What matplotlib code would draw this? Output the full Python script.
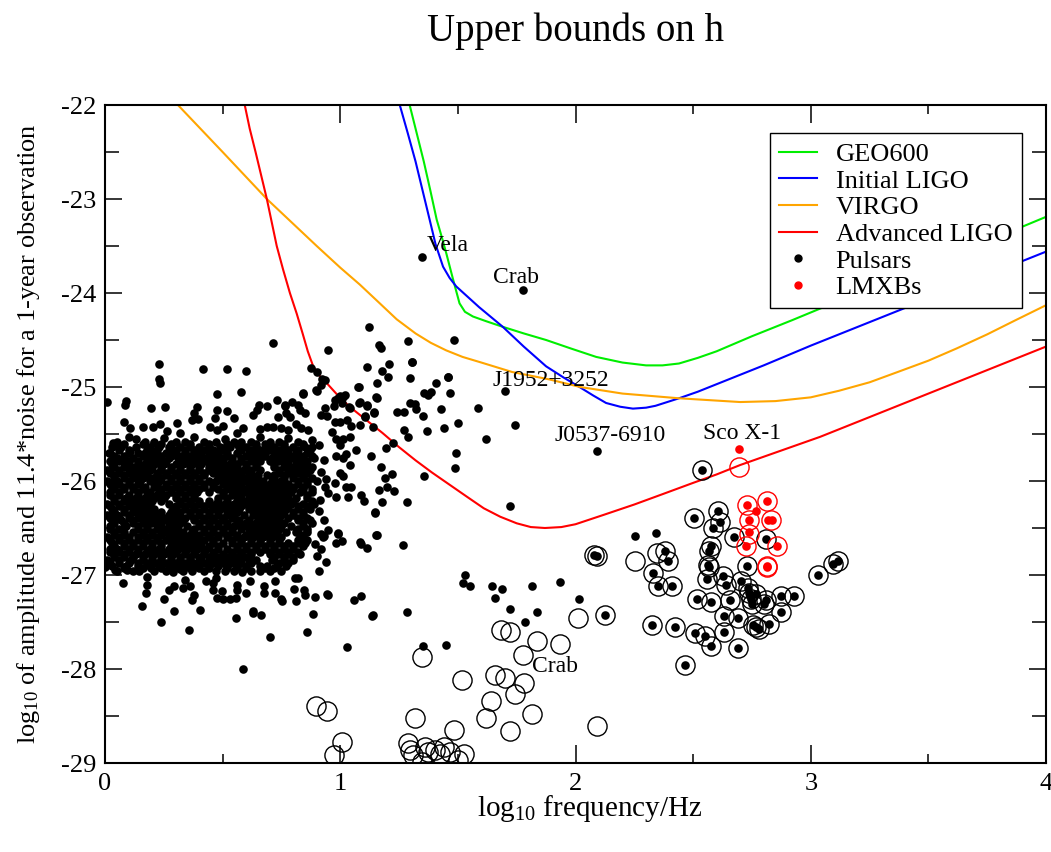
import matplotlib
matplotlib.use('Agg')
import matplotlib.pyplot as plt
from matplotlib.lines import Line2D
from matplotlib.ticker import MultipleLocator, FuncFormatter

plt.rcParams['font.family'] = ['Liberation Serif', 'DejaVu Serif']
plt.rcParams['mathtext.fontset'] = 'custom'
plt.rcParams['mathtext.rm'] = 'Liberation Serif'
plt.rcParams['mathtext.it'] = 'Liberation Serif:italic'
plt.rcParams['axes.unicode_minus'] = False

# ---------------- detector sensitivity curves ----------------
geo_x = [1.295, 1.325, 1.355, 1.383, 1.41, 1.431, 1.451, 1.479, 1.507, 1.53, 1.564, 1.62, 1.691, 1.78,
         1.875, 1.98, 2.088, 2.2, 2.30, 2.37, 2.44, 2.52, 2.6, 2.75, 2.92, 3.2, 3.5, 3.75, 4.0]
geo_y = [-22.0, -22.3, -22.6, -22.91, -23.22, -23.4, -23.58, -23.85, -24.11, -24.2, -24.25, -24.3, -24.36, -24.43,
         -24.50, -24.59, -24.68, -24.74, -24.77, -24.77, -24.75, -24.69, -24.62, -24.46, -24.29, -24.0, -23.71, -23.45, -23.19]

ligo_x = [1.253, 1.287, 1.32, 1.35, 1.38, 1.405, 1.437, 1.465, 1.493, 1.59, 1.691, 1.78, 1.875, 1.95, 2.017,
          2.075, 2.13, 2.19, 2.244, 2.3, 2.34, 2.44, 2.52, 2.6, 2.7, 2.8, 3.0, 3.25, 3.5, 3.75, 4.0]
ligo_y = [-22.0, -22.3, -22.6, -22.91, -23.22, -23.48, -23.72, -23.84, -23.93, -24.15, -24.36, -24.57, -24.78, -24.9, -25.0,
          -25.09, -25.17, -25.21, -25.23, -25.22, -25.2, -25.12, -25.05, -24.97, -24.87, -24.77, -24.56, -24.31, -24.06, -23.81, -23.56]

virgo_x = [0.31, 0.5, 0.688, 0.9, 1.0, 1.083, 1.168, 1.24, 1.32, 1.385, 1.45, 1.52, 1.6, 1.73, 1.89, 2.02,
           2.2, 2.44, 2.7, 2.85, 3.0, 3.12, 3.25, 3.37, 3.5, 3.62, 3.75, 3.87, 4.0]
virgo_y = [-22.0, -22.5, -23.0, -23.5, -23.73, -23.91, -24.11, -24.28, -24.43, -24.53, -24.61, -24.68, -24.74, -24.84, -24.92, -25.0,
           -25.07, -25.12, -25.16, -25.15, -25.11, -25.04, -24.95, -24.84, -24.72, -24.59, -24.44, -24.29, -24.13]

adv_x = [0.594, 0.615, 0.64, 0.664, 0.688, 0.709, 0.73, 0.757, 0.786, 0.815, 0.84, 0.862, 0.885, 0.912, 0.943,
         0.99, 1.04, 1.11, 1.18, 1.25, 1.32, 1.39, 1.465, 1.54, 1.61, 1.68, 1.75, 1.81, 1.87, 1.94, 2.0,
         2.12, 2.25, 2.37, 2.5, 2.6, 2.7, 2.87, 3.04, 3.27, 3.5, 3.75, 4.0]
adv_y = [-22.0, -22.25, -22.5, -22.75, -23.0, -23.25, -23.5, -23.75, -24.0, -24.22, -24.43, -24.62, -24.78, -24.88, -24.96,
         -25.09, -25.21, -25.35, -25.49, -25.64, -25.78, -25.91, -26.04, -26.17, -26.29, -26.38, -26.45, -26.49, -26.5, -26.49, -26.46,
         -26.36, -26.25, -26.14, -26.02, -25.93, -25.83, -25.68, -25.53, -25.3, -25.07, -24.82, -24.57]

# ---------------- pulsars: dense core read row by row ----------------
core_y = [-25.58, -25.64, -25.70, -25.76, -25.82, -25.88, -25.94, -26.00, -26.06, -26.12,
          -26.18, -26.24, -26.30, -26.36, -26.42, -26.48, -26.54, -26.60, -26.66, -26.72,
          -26.78, -26.84, -26.90, -26.96]
core_x = [
    [0.05, 0.17, 0.21, 0.30, 0.34, 0.42, 0.47, 0.55, 0.58, 0.62, 0.70, 0.74, 0.82],
    [0.03, 0.07, 0.13, 0.19, 0.23, 0.27, 0.32, 0.36, 0.40, 0.44, 0.49, 0.53, 0.57, 0.60, 0.64, 0.69, 0.72, 0.76, 0.80, 0.85, 0.88],
    [0.02, 0.10, 0.14, 0.17, 0.21, 0.26, 0.29, 0.34, 0.38, 0.41, 0.45, 0.48, 0.52, 0.56, 0.61, 0.65, 0.68, 0.73, 0.77, 0.81, 0.86],
    [0.05, 0.08, 0.12, 0.19, 0.23, 0.27, 0.31, 0.35, 0.39, 0.43, 0.47, 0.50, 0.54, 0.58, 0.63, 0.66, 0.71, 0.75, 0.79, 0.83, 0.89],
    [0.03, 0.09, 0.14, 0.17, 0.21, 0.25, 0.30, 0.33, 0.37, 0.41, 0.45, 0.49, 0.53, 0.56, 0.60, 0.64, 0.72, 0.77, 0.81, 0.85],
    [0.01, 0.06, 0.11, 0.15, 0.19, 0.24, 0.28, 0.32, 0.36, 0.40, 0.44, 0.47, 0.51, 0.55, 0.59, 0.62, 0.66, 0.74, 0.79, 0.83, 0.87],
    [0.04, 0.08, 0.13, 0.17, 0.22, 0.26, 0.30, 0.34, 0.38, 0.42, 0.49, 0.53, 0.57, 0.61, 0.65, 0.69, 0.72, 0.76, 0.80, 0.84],
    [0.01, 0.05, 0.10, 0.15, 0.19, 0.23, 0.28, 0.32, 0.36, 0.40, 0.44, 0.47, 0.51, 0.55, 0.59, 0.63, 0.67, 0.71, 0.75, 0.82, 0.86, 0.90],
    [0.03, 0.08, 0.12, 0.17, 0.21, 0.26, 0.30, 0.34, 0.38, 0.42, 0.46, 0.53, 0.57, 0.61, 0.65, 0.69, 0.73, 0.77, 0.80, 0.84],
    [0.02, 0.06, 0.14, 0.19, 0.23, 0.28, 0.32, 0.36, 0.39, 0.44, 0.50, 0.55, 0.59, 0.63, 0.67, 0.71, 0.75, 0.79, 0.83, 0.88],
    [0.04, 0.09, 0.13, 0.17, 0.21, 0.25, 0.30, 0.34, 0.38, 0.48, 0.52, 0.57, 0.61, 0.65, 0.69, 0.73, 0.77, 0.81, 0.86],
    [0.01, 0.06, 0.11, 0.15, 0.19, 0.27, 0.32, 0.36, 0.40, 0.44, 0.47, 0.51, 0.55, 0.59, 0.63, 0.67, 0.71, 0.75, 0.79, 0.84, 0.89],
    [0.03, 0.08, 0.13, 0.17, 0.21, 0.29, 0.34, 0.38, 0.42, 0.46, 0.49, 0.53, 0.57, 0.61, 0.65, 0.69, 0.73, 0.77, 0.82, 0.87],
    [0.01, 0.05, 0.10, 0.15, 0.19, 0.23, 0.27, 0.31, 0.36, 0.40, 0.44, 0.48, 0.52, 0.55, 0.59, 0.63, 0.67, 0.71, 0.75, 0.80, 0.84],
    [0.03, 0.07, 0.12, 0.17, 0.21, 0.25, 0.29, 0.33, 0.38, 0.42, 0.46, 0.50, 0.57, 0.61, 0.65, 0.69, 0.73, 0.82, 0.87],
    [0.02, 0.09, 0.14, 0.18, 0.23, 0.27, 0.31, 0.35, 0.40, 0.44, 0.48, 0.52, 0.55, 0.59, 0.63, 0.67, 0.71, 0.75, 0.79, 0.84],
    [0.04, 0.08, 0.12, 0.16, 0.20, 0.25, 0.29, 0.33, 0.37, 0.42, 0.46, 0.50, 0.54, 0.61, 0.65, 0.69, 0.73, 0.77, 0.81, 0.86],
    [0.01, 0.06, 0.10, 0.14, 0.18, 0.22, 0.27, 0.31, 0.35, 0.39, 0.44, 0.48, 0.52, 0.56, 0.59, 0.63, 0.67, 0.71, 0.75, 0.83],
    [0.03, 0.08, 0.12, 0.16, 0.20, 0.24, 0.29, 0.33, 0.37, 0.41, 0.46, 0.50, 0.54, 0.58, 0.62, 0.66, 0.70, 0.74, 0.78, 0.82, 0.85],
    [0.02, 0.05, 0.10, 0.14, 0.19, 0.23, 0.27, 0.31, 0.35, 0.39, 0.43, 0.48, 0.52, 0.56, 0.60, 0.64, 0.68, 0.72, 0.76, 0.80],
    [0.04, 0.08, 0.13, 0.17, 0.21, 0.25, 0.29, 0.34, 0.38, 0.42, 0.46, 0.50, 0.54, 0.58, 0.62, 0.70, 0.74, 0.78, 0.83],
    [0.01, 0.06, 0.11, 0.16, 0.20, 0.24, 0.28, 0.32, 0.36, 0.41, 0.45, 0.49, 0.53, 0.57, 0.61, 0.64, 0.71, 0.76, 0.80],
    [0.03, 0.09, 0.14, 0.19, 0.23, 0.27, 0.31, 0.35, 0.39, 0.44, 0.48, 0.52, 0.56, 0.60, 0.66, 0.69, 0.73, 0.77],
    [0.05, 0.12, 0.21, 0.26, 0.33, 0.37, 0.42, 0.47, 0.51, 0.55, 0.62, 0.66, 0.70, 0.75],
]
# in-between rows of the same dense core
core2_y = [-25.61, -25.67, -25.73, -25.79, -25.85, -25.91, -25.97, -26.03, -26.09, -26.15, -26.21, -26.27,
           -26.33, -26.39, -26.45, -26.51, -26.57, -26.63, -26.69, -26.75, -26.81, -26.87, -26.93]
core2_x = [
    [0.08, 0.16, 0.24, 0.28, 0.36, 0.44, 0.52, 0.56, 0.64, 0.68, 0.76, 0.84],
    [0.06, 0.10, 0.18, 0.22, 0.30, 0.34, 0.38, 0.42, 0.46, 0.50, 0.58, 0.62, 0.66, 0.70, 0.74, 0.78, 0.82, 0.87],
    [0.04, 0.08, 0.16, 0.20, 0.24, 0.28, 0.32, 0.36, 0.40, 0.44, 0.48, 0.52, 0.60, 0.64, 0.68, 0.72, 0.76, 0.80, 0.84, 0.88],
    [0.02, 0.06, 0.10, 0.14, 0.18, 0.22, 0.26, 0.34, 0.38, 0.42, 0.46, 0.50, 0.54, 0.58, 0.62, 0.66, 0.70, 0.74, 0.78, 0.82, 0.86],
    [0.04, 0.08, 0.12, 0.16, 0.20, 0.24, 0.28, 0.36, 0.40, 0.44, 0.48, 0.52, 0.56, 0.60, 0.64, 0.72, 0.76, 0.80, 0.84, 0.88],
    [0.02, 0.06, 0.10, 0.14, 0.18, 0.22, 0.26, 0.30, 0.34, 0.38, 0.42, 0.46, 0.50, 0.54, 0.58, 0.62, 0.74, 0.78, 0.82, 0.86],
    [0.04, 0.08, 0.12, 0.16, 0.20, 0.24, 0.28, 0.32, 0.36, 0.40, 0.48, 0.52, 0.56, 0.60, 0.64, 0.72, 0.76, 0.80, 0.84, 0.88],
    [0.02, 0.06, 0.10, 0.14, 0.22, 0.26, 0.30, 0.34, 0.38, 0.42, 0.46, 0.50, 0.54, 0.58, 0.62, 0.66, 0.70, 0.74, 0.78, 0.82, 0.86],
    [0.04, 0.08, 0.12, 0.16, 0.24, 0.28, 0.32, 0.36, 0.40, 0.48, 0.52, 0.56, 0.60, 0.64, 0.68, 0.72, 0.76, 0.80, 0.84, 0.88],
    [0.02, 0.06, 0.10, 0.14, 0.18, 0.22, 0.26, 0.30, 0.34, 0.38, 0.50, 0.54, 0.58, 0.62, 0.66, 0.70, 0.74, 0.78, 0.86],
    [0.04, 0.08, 0.12, 0.16, 0.20, 0.24, 0.32, 0.36, 0.40, 0.44, 0.48, 0.52, 0.56, 0.60, 0.64, 0.68, 0.72, 0.76, 0.80, 0.88],
    [0.02, 0.06, 0.10, 0.14, 0.18, 0.30, 0.34, 0.38, 0.42, 0.46, 0.50, 0.54, 0.58, 0.62, 0.66, 0.70, 0.74, 0.78, 0.82, 0.86],
    [0.04, 0.08, 0.12, 0.16, 0.20, 0.24, 0.28, 0.32, 0.36, 0.40, 0.44, 0.48, 0.52, 0.56, 0.64, 0.68, 0.72, 0.76, 0.80, 0.84],
    [0.02, 0.06, 0.10, 0.14, 0.18, 0.22, 0.26, 0.30, 0.34, 0.38, 0.42, 0.46, 0.50, 0.54, 0.66, 0.70, 0.74, 0.78, 0.82, 0.86],
    [0.04, 0.08, 0.12, 0.16, 0.20, 0.24, 0.28, 0.32, 0.40, 0.44, 0.48, 0.52, 0.56, 0.60, 0.64, 0.68, 0.72, 0.76, 0.84, 0.88],
    [0.02, 0.06, 0.14, 0.18, 0.22, 0.26, 0.30, 0.38, 0.42, 0.46, 0.50, 0.54, 0.58, 0.62, 0.66, 0.70, 0.74, 0.82, 0.86],
    [0.04, 0.08, 0.16, 0.20, 0.24, 0.28, 0.32, 0.36, 0.40, 0.44, 0.48, 0.52, 0.56, 0.60, 0.64, 0.68, 0.72, 0.84],
    [0.02, 0.06, 0.10, 0.14, 0.18, 0.22, 0.26, 0.30, 0.34, 0.38, 0.42, 0.46, 0.54, 0.58, 0.62, 0.66, 0.70, 0.74, 0.82, 0.86],
    [0.04, 0.08, 0.12, 0.16, 0.20, 0.24, 0.28, 0.32, 0.36, 0.40, 0.44, 0.48, 0.56, 0.60, 0.64, 0.68, 0.72, 0.76, 0.80, 0.84],
    [0.02, 0.06, 0.10, 0.14, 0.18, 0.22, 0.26, 0.30, 0.34, 0.38, 0.42, 0.46, 0.54, 0.58, 0.62, 0.66, 0.70, 0.74, 0.78, 0.82],
    [0.04, 0.08, 0.12, 0.16, 0.20, 0.24, 0.28, 0.32, 0.36, 0.40, 0.44, 0.48, 0.52, 0.56, 0.60, 0.72, 0.76, 0.80],
    [0.02, 0.06, 0.10, 0.14, 0.18, 0.22, 0.26, 0.30, 0.34, 0.38, 0.42, 0.46, 0.50, 0.54, 0.58, 0.62, 0.74, 0.78],
    [0.08, 0.16, 0.24, 0.28, 0.36, 0.40, 0.44, 0.52, 0.56, 0.60, 0.68, 0.72],
]

# ---------------- pulsars: individually read points ----------------
scatter_pts = [
    # upper fringe of the cloud
    (0.715, -24.53), (0.23, -24.75), (0.23, -24.92), (0.235, -24.96), (0.415, -24.81), (0.517, -24.81),
    (0.60, -24.83), (0.477, -25.07), (0.578, -25.05), (0.01, -25.16), (0.09, -25.15), (0.085, -25.19),
    (0.195, -25.22), (0.255, -25.21), (0.39, -25.21), (0.38, -25.28), (0.475, -25.24), (0.52, -25.25),
    (0.55, -25.33), (0.37, -25.35), (0.395, -25.34), (0.467, -25.33), (0.08, -25.37), (0.305, -25.38),
    (0.63, -25.30), (0.645, -25.24), (0.655, -25.19), (0.69, -25.20), (0.73, -25.14), (0.765, -25.20),
    (0.735, -25.32), (0.77, -25.28), (0.105, -25.44), (0.16, -25.43), (0.205, -25.43), (0.235, -25.39),
    (0.262, -25.47), (0.32, -25.49), (0.445, -25.43), (0.475, -25.46), (0.50, -25.41), (0.585, -25.44),
    (0.56, -25.49), (0.66, -25.45), (0.69, -25.43), (0.715, -25.43), (0.75, -25.44), (0.10, -25.53),
    (0.035, -25.60), (0.055, -25.63), (0.015, -25.70), (0.105, -25.68), (0.21, -25.60), (0.275, -25.64),
    (0.13, -25.55), (0.25, -25.54), (0.38, -25.53), (0.51, -25.55), (0.66, -25.53), (0.78, -25.54),
    # right of the cloud, near and above the Advanced LIGO curve
    (0.947, -24.61), (1.163, -24.55), (1.172, -24.59), (1.287, -24.51), (1.482, -24.50), (1.113, -24.79),
    (1.176, -24.83), (1.206, -24.76), (1.202, -24.89), (1.304, -24.73), (1.295, -24.90), (1.456, -24.89),
    (0.875, -24.80), (0.90, -24.84), (0.934, -24.93), (0.92, -24.98), (0.90, -25.04), (0.84, -25.06),
    (1.079, -25.0), (1.155, -24.96), (1.155, -25.12), (1.405, -24.96), (1.355, -25.06), (1.372, -25.09),
    (1.384, -25.05), (1.465, -25.06), (0.99, -25.12), (1.01, -25.11), (1.006, -25.17), (1.079, -25.17),
    (1.113, -25.20), (1.142, -25.27), (1.24, -25.27), (1.27, -25.27), (1.295, -25.17), (1.316, -25.18),
    (1.32, -25.23), (1.427, -25.23), (1.35, -25.31), (1.50, -25.38), (1.44, -25.44), (1.367, -25.47),
    (1.27, -25.46), (1.287, -25.53), (1.104, -25.32), (1.138, -25.43), (1.083, -25.40), (1.223, -25.60),
    (1.193, -25.65), (1.13, -25.73), (1.172, -25.85), (1.19, -25.97), (1.219, -25.93), (1.197, -26.06),
    (1.227, -26.11), (1.163, -26.10), (1.355, -25.95), (1.49, -25.70), (1.486, -25.86), (1.282, -26.22),
    (1.176, -26.22), (1.10, -26.21), (1.087, -26.15), (1.122, -24.36), (1.585, -25.22), (1.701, -25.04),
    (1.743, -25.40), (1.62, -25.55), (1.72, -26.27), (1.458, -24.89), (1.305, -24.73),
    # between the cloud and the curve
    (0.934, -25.22), (0.974, -25.20), (0.998, -25.10), (1.019, -25.09), (1.04, -25.22), (0.92, -25.30),
    (0.945, -25.31), (0.977, -25.37), (0.998, -25.37), (1.03, -25.35), (1.047, -25.41), (0.963, -25.48),
    (0.984, -25.55), (1.012, -25.55), (1.04, -25.53), (0.998, -25.62), (1.069, -25.67), (0.984, -25.73),
    (1.012, -25.76), (1.026, -25.71), (1.04, -25.83), (0.998, -25.92), (1.012, -25.95), (1.047, -26.06),
    (1.026, -26.06), (0.977, -26.02), (0.934, -26.06), (0.948, -26.13), (0.984, -26.17), (0.913, -26.20),
    (1.033, -26.17), (0.764, -25.19), (0.793, -25.16), (0.821, -25.19), (0.842, -25.07), (0.828, -25.24),
    (0.849, -25.28), (0.786, -25.32), (0.814, -25.39), (0.835, -25.44), (0.863, -25.46), (0.878, -25.56),
    (0.779, -25.46), (0.924, -24.92), (0.899, -25.03), (0.977, -25.14), (1.037, -25.21), (1.076, -25.00),
    (1.112, -25.19), (1.083, -25.16), (1.143, -25.28), (1.105, -25.31), (1.154, -25.11),
    (0.91, -25.62), (0.93, -25.78), (0.92, -25.90), (0.94, -25.98), (0.91, -26.32), (0.93, -26.42),
    (0.95, -26.52), (0.92, -26.56), (0.90, -26.80), (0.94, -26.86),
    # lower fringe
    (0.0, -26.92), (0.043, -26.95), (0.078, -27.09), (0.092, -26.95), (0.146, -26.96), (0.194, -26.93),
    (0.18, -27.02), (0.18, -27.11), (0.174, -27.19), (0.156, -27.33), (0.234, -26.89), (0.25, -27.26),
    (0.29, -26.97), (0.318, -26.94), (0.293, -27.38), (0.238, -27.50), (0.355, -27.59), (0.273, -27.16),
    (0.293, -27.12), (0.333, -27.14), (0.361, -27.12), (0.379, -27.21), (0.368, -27.27), (0.34, -27.05),
    (0.403, -27.37), (0.429, -27.06), (0.46, -27.09), (0.471, -27.03), (0.46, -27.16), (0.477, -27.24),
    (0.502, -27.26), (0.53, -27.26), (0.556, -27.24), (0.563, -27.11), (0.559, -27.16), (0.498, -27.17),
    (0.601, -27.19), (0.555, -27.46), (0.627, -27.40), (0.662, -27.43), (0.70, -27.66), (0.587, -28.0),
    (0.677, -27.12), (0.677, -27.19), (0.722, -27.06), (0.722, -27.19), (0.753, -27.28), (0.616, -27.06),
    (0.584, -26.97),
    (1.147, -26.34), (1.157, -26.57), (0.991, -26.56), (0.98, -26.66), (1.008, -26.64), (0.927, -26.60),
    (1.087, -26.67), (1.112, -26.71), (1.267, -26.68), (0.892, -26.67), (0.917, -26.72), (0.91, -26.96),
    (1.529, -27.0), (1.522, -27.08), (1.55, -27.12), (0.946, -27.21), (0.892, -27.23), (0.852, -27.21),
    (0.81, -27.28), (1.057, -27.27), (1.089, -27.22), (1.135, -27.44), (1.282, -27.39), (0.885, -27.41),
    (0.86, -27.61), (1.03, -27.77), (1.352, -27.75), (1.448, -27.74), (0.804, -27.15), (0.847, -27.16),
    (0.821, -27.03), (0.807, -27.03), (1.153, -26.57), (1.086, -26.65), (0.99, -26.55), (0.93, -26.59),
    (1.146, -26.33), (0.944, -27.20), (0.75, -27.26), (0.63, -27.38), (1.645, -27.12), (1.688, -27.15),
    (1.659, -27.24), (1.815, -27.12), (1.722, -27.36), (1.837, -27.39), (1.784, -27.50), (1.935, -27.07),
    (2.013, -27.26), (1.14, -27.43), (2.255, -26.59), (2.342, -26.55),
    # named pulsars
    (1.346, -23.62), (1.775, -23.97), (2.092, -25.68),
]

# pulsars with both a dot and a circle
ringed_pts = [
    (2.536, -25.88), (2.08, -26.79), (2.09, -26.80), (2.127, -27.43), (2.327, -27.53), (2.425, -27.55),
    (2.467, -27.96), (2.505, -26.39), (2.604, -26.32), (2.586, -26.50), (2.614, -26.44), (2.576, -26.69),
    (2.566, -26.74), (2.562, -26.89), (2.569, -26.92), (2.557, -27.04), (2.626, -27.01), (2.64, -27.11),
    (2.517, -27.25), (2.576, -27.29), (2.658, -27.27), (2.703, -27.06), (2.734, -27.14), (2.738, -27.19),
    (2.745, -27.26), (2.752, -27.31), (2.766, -27.20), (2.802, -27.31), (2.809, -27.27), (2.873, -27.22),
    (2.93, -27.22), (2.873, -27.39), (2.823, -27.52), (2.767, -27.55), (2.781, -27.57), (2.756, -27.53),
    (2.689, -27.46), (2.63, -27.44), (2.63, -27.61), (2.508, -27.62), (2.55, -27.65), (2.576, -27.75),
    (2.692, -27.78), (2.731, -26.90), (2.809, -26.62), (2.675, -26.60), (2.328, -26.98), (2.35, -27.12),
    (2.412, -27.12), (2.38, -26.74), (2.392, -26.85), (3.029, -27.0), (3.095, -26.88), (3.117, -26.85),
]

# open circles without a dot
open_pts = [
    (0.895, -28.39), (0.944, -28.45), (1.008, -28.78), (0.972, -28.91), (1.349, -27.87), (1.519, -28.12),
    (1.683, -27.58), (1.72, -27.61), (1.837, -27.70), (1.932, -27.73), (1.776, -27.85), (2.01, -27.46),
    (1.656, -28.06), (1.702, -28.10), (1.783, -28.15), (1.744, -28.27), (1.642, -28.34), (1.618, -28.52),
    (1.722, -28.66), (1.815, -28.48), (1.316, -28.52), (1.482, -28.65), (2.09, -28.61), (1.288, -28.79),
    (1.295, -28.86), (1.309, -28.91), (1.349, -28.99), (1.373, -28.88), (1.401, -28.86), (1.422, -28.90),
    (1.443, -28.83), (1.465, -28.88), (1.5, -28.97), (1.528, -28.90), (1.359, -28.83), (2.254, -26.85),
    (2.345, -26.77),
]

# LMXBs
lmxb_dots = [(2.727, -26.26), (2.766, -26.32), (2.816, -26.21), (2.736, -26.42), (2.82, -26.42),
             (2.837, -26.42), (2.738, -26.54), (2.856, -26.69), (2.724, -26.69), (2.813, -26.90),
             (2.816, -26.92), (2.696, -25.66)]
lmxb_rings = [(2.727, -26.26), (2.816, -26.21), (2.736, -26.42), (2.83, -26.42), (2.738, -26.56),
              (2.856, -26.69), (2.724, -26.69), (2.813, -26.90), (2.816, -26.92), (2.696, -25.85)]

labels_txt = ['Vela', 'Crab', 'J1952+3252', 'J0537-6910', 'Sco X-1', 'Crab']
labels_x = [1.367, 1.648, 1.647, 1.911, 2.54, 1.813]
labels_y = [-23.49, -23.83, -24.93, -25.52, -25.49, -27.97]

# ---------------- figure ----------------
fig = plt.figure(figsize=(10.51, 8.52), dpi=100)
ax = fig.add_axes([105 / 1051, 89 / 852, 941 / 1051, 658 / 852])

lw = 1.5
ax.plot(geo_x, geo_y, color='#00ee00', lw=lw, label='GEO600')
ax.plot(ligo_x, ligo_y, color='#0000ff', lw=lw, label='Initial LIGO')
ax.plot(virgo_x, virgo_y, color='#ffa500', lw=lw, label='VIRGO')
ax.plot(adv_x, adv_y, color='#ff0000', lw=lw, label='Advanced LIGO')

dot_ms = 6.2
ring_ms = 13.8
core_pts = [(x, y) for y, xs in zip(core_y, core_x) for x in xs]
core_pts += [(x, y) for y, xs in zip(core2_y, core2_x) for x in xs]
all_dots = core_pts + scatter_pts + ringed_pts
ax.plot([p[0] for p in all_dots], [p[1] for p in all_dots], ls='none', marker='o',
        ms=dot_ms, mfc='black', mec='black', mew=0)
ring_all = ringed_pts + open_pts
ax.plot([p[0] for p in ring_all], [p[1] for p in ring_all], ls='none', marker='o',
        ms=ring_ms, mfc='none', mec='black', mew=1.0)
ax.plot([p[0] for p in lmxb_dots], [p[1] for p in lmxb_dots], ls='none', marker='o',
        ms=dot_ms, mfc='red', mec='red', mew=0)
ax.plot([p[0] for p in lmxb_rings], [p[1] for p in lmxb_rings], ls='none', marker='o',
        ms=ring_ms, mfc='none', mec='red', mew=1.0)

for t, x, y in zip(labels_txt, labels_x, labels_y):
    ax.text(x, y, t, fontsize=17, ha='left', va='center')

ax.set_xlim(0, 4)
ax.set_ylim(-29, -22)
ax.xaxis.set_major_locator(MultipleLocator(1))
ax.xaxis.set_minor_locator(MultipleLocator(0.5))
ax.yaxis.set_major_locator(MultipleLocator(1))
ax.yaxis.set_minor_locator(MultipleLocator(0.5))
fmt = FuncFormatter(lambda v, p: '%d' % round(v))
ax.xaxis.set_major_formatter(fmt)
ax.yaxis.set_major_formatter(fmt)
ax.tick_params(axis='both', which='both', direction='in', top=True, right=True, width=1.1)
ax.tick_params(axis='x', which='major', length=13, labelsize=19, pad=7)
ax.tick_params(axis='x', which='minor', length=6.5)
ax.tick_params(axis='y', which='major', length=12, labelsize=19, pad=6)
ax.tick_params(axis='y', which='minor', length=10)
for s in ax.spines.values():
    s.set_linewidth(1.5)

fig.text(590 / 1051, 1 - 816 / 852, 'log$_{10}$ frequency/Hz', fontsize=21, ha='center', va='baseline')
ax.set_ylabel('log$_{10}$ of amplitude and 11.4*noise for a 1-year observation', fontsize=19, labelpad=14)
fig.text(0.5475, 0.963, 'Upper bounds on h', fontsize=28, ha='center', va='center')

handles = [
    Line2D([], [], color='#00ee00', lw=lw),
    Line2D([], [], color='#0000ff', lw=lw),
    Line2D([], [], color='#ffa500', lw=lw),
    Line2D([], [], color='#ff0000', lw=lw),
    Line2D([], [], ls='none', marker='o', ms=5, mfc='black', mec='black'),
    Line2D([], [], ls='none', marker='o', ms=5, mfc='red', mec='red'),
]
names = ['GEO600', 'Initial LIGO', 'VIRGO', 'Advanced LIGO', 'Pulsars', 'LMXBs']
leg = ax.legend(handles, names, loc='upper right', bbox_to_anchor=(0.974, 0.957), borderaxespad=0,
                fontsize=19, frameon=True, fancybox=False, framealpha=1, edgecolor='black',
                handlelength=1.45, handletextpad=0.7, labelspacing=0.12, borderpad=0.35)
leg.get_frame().set_linewidth(1.0)

fig.savefig('out.png', dpi=100)
